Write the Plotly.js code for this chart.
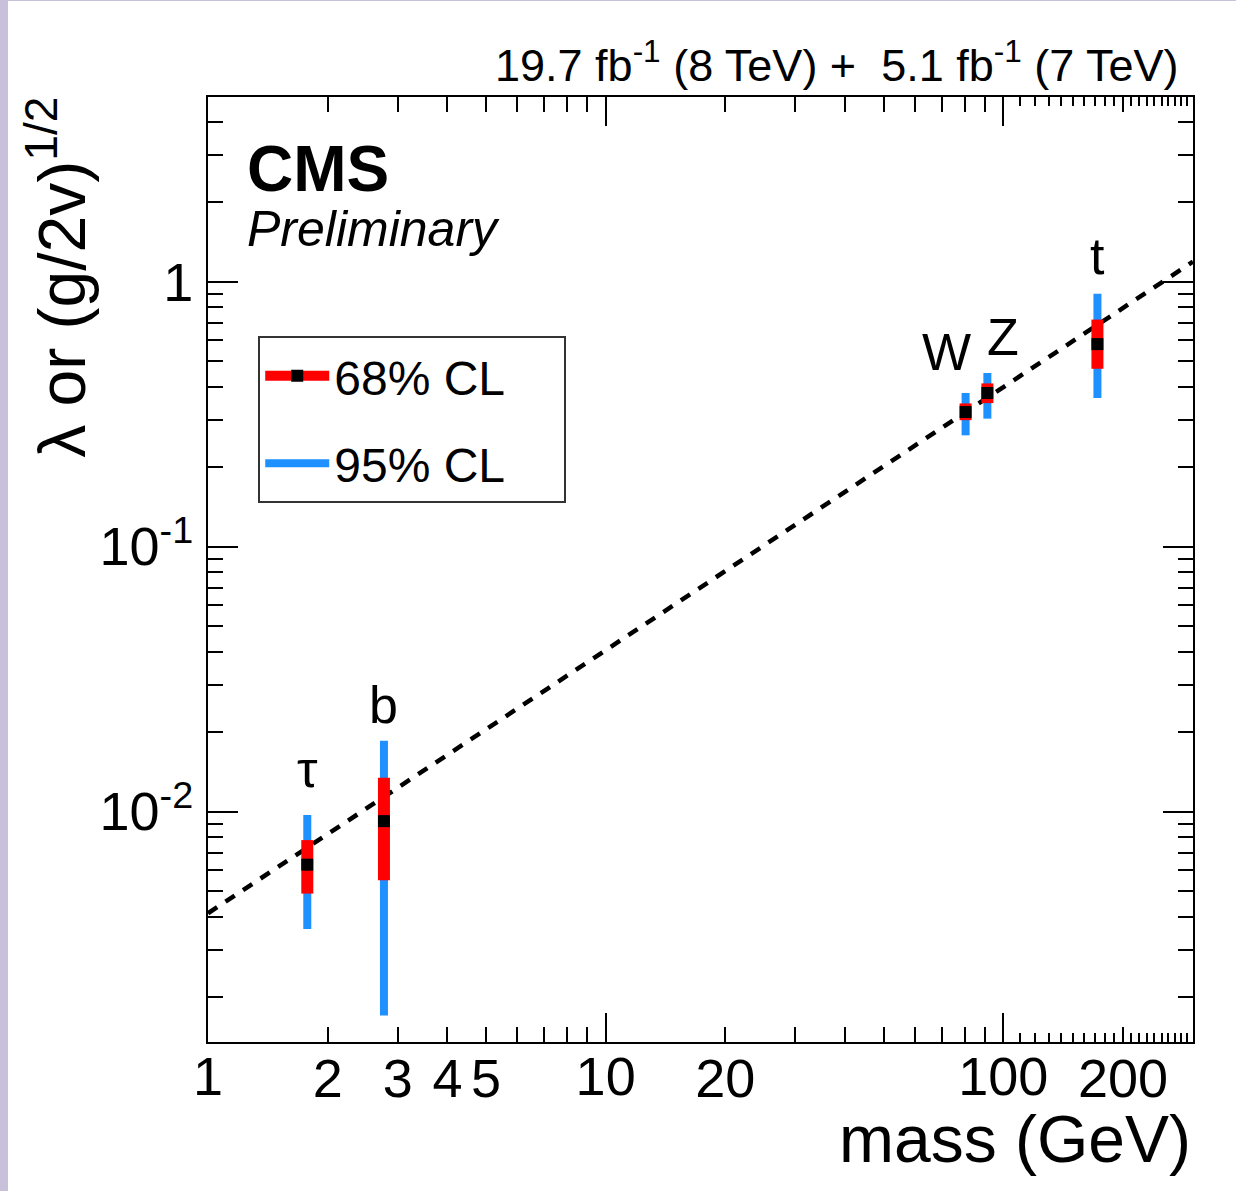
<!DOCTYPE html>
<html>
<head>
<meta charset="utf-8">
<script src="https://cdn.plot.ly/plotly-3.0.1.min.js"></script>
<style>
  html, body { margin: 0; padding: 0; background: #c9c0dc; width: 1236px; height: 1191px; overflow: hidden; }
  #plot { position: absolute; left: 8px; top: 1px; width: 1228px; height: 1190px; background: #ffffff; }
</style>
</head>
<body>
<div id="plot"></div>
<script>
// ---- data ----
const particles = ['τ', 'b', 'W', 'Z', 't'];
const mass      = [1.777, 2.77, 80.4, 91.2, 172.5];      // GeV
const value     = [0.0063, 0.0092, 0.322, 0.380, 0.581]; // best fit
const lo68      = [0.0049, 0.0055, 0.300, 0.348, 0.469];
const hi68      = [0.0078, 0.0134, 0.347, 0.413, 0.719];
const lo95      = [0.0036, 0.0017, 0.263, 0.304, 0.364];
const hi95      = [0.0097, 0.0185, 0.380, 0.452, 0.901];

// SM expectation (dashed line) end points
const smMass  = [1, 300];
const smValue = [0.00413, 1.19];

// axis ticks
const xLabelVals  = [1, 10, 100];
const xLabelText  = ['1', '10', '100'];
const xLabelVals2 = [2, 3, 4, 5, 20, 200];
const xLabelText2 = ['2', '3', '4', '5', '20', '200'];
const xMinorVals  = [6, 7, 8, 9, 30, 40, 50, 60, 70, 80, 90];
const xTinyVals   = [110, 120, 130, 140, 150, 160, 170, 180, 190, 210, 220, 230, 240, 250, 260, 270, 280, 290];
const yTickVals   = [0.01, 0.1, 1];
const yTickText   = ['10<sup>-2</sup>', '10<sup>-1</sup>', '1'];
const yMinorVals  = [0.002, 0.003, 0.004, 0.005, 0.006, 0.007, 0.008, 0.009,
                     0.02, 0.03, 0.04, 0.05, 0.06, 0.07, 0.08, 0.09,
                     0.2, 0.3, 0.4, 0.5, 0.6, 0.7, 0.8, 0.9, 2, 3, 4];

// label offsets (style, pixels)
const labelDx = [0, 0, -19, 16, 0];
const labelDy = [15, 5, 10, 5, 7];

const BLUE = '#1e90ff', RED = '#ff0000';
const FONT = '"Liberation Sans", Arial, Helvetica, sans-serif';

const up   = (hi, c) => hi.map((h, i) => h - c[i]);
const down = (lo, c) => lo.map((l, i) => c[i] - l);

const traces = [
  // carrier trace so the second (tick) x axis is drawn
  { x: [null], y: [null], xaxis: 'x2', yaxis: 'y', mode: 'markers', type: 'scatter', showlegend: false,
    marker: { size: 1, color: 'rgba(0,0,0,0)' }, hoverinfo: 'skip' },
  { x: smMass, y: smValue, mode: 'lines', type: 'scatter', showlegend: false,
    line: { color: '#000', width: 4.5, dash: '11px,10px' }, hoverinfo: 'skip' },
  { x: mass, y: value, mode: 'markers', type: 'scatter', showlegend: false,
    marker: { size: 1, color: 'rgba(0,0,0,0)' },
    error_y: { type: 'data', symmetric: false, array: up(hi95, value), arrayminus: down(lo95, value),
               color: BLUE, thickness: 8, width: 0 } },
  { x: mass, y: value, mode: 'markers', type: 'scatter', showlegend: false,
    marker: { size: 1, color: 'rgba(0,0,0,0)' },
    error_y: { type: 'data', symmetric: false, array: up(hi68, value), arrayminus: down(lo68, value),
               color: RED, thickness: 12, width: 0 } },
  { x: mass, y: value, mode: 'markers', type: 'scatter', showlegend: false,
    marker: { size: 12, color: '#000', symbol: 'square' } },
  // legend entries
  { x: [null], y: [null], mode: 'lines+markers', type: 'scatter', name: '68% CL\u00a0\u00a0\u00a0\u00a0',
    legendgroup: 'a', line: { color: RED, width: 12 }, marker: { color: '#000', size: 12, symbol: 'square' } },
  { x: [null], y: [null], mode: 'lines', type: 'scatter', name: '95% CL',
    legendgroup: 'b', line: { color: BLUE, width: 8 } }
];

const annotations = particles.map((p, i) => ({
  text: p, x: Math.log10(mass[i]), y: Math.log10(hi95[i]), xref: 'x', yref: 'y',
  xanchor: 'center', yanchor: 'bottom', xshift: labelDx[i], yshift: labelDy[i],
  showarrow: false, font: { family: FONT, size: 52, color: '#000' }
}));
annotations.push(
  { text: '<b>CMS</b>', xref: 'paper', yref: 'paper', x: 0.038, y: 0.964, xanchor: 'left', yanchor: 'top',
    showarrow: false, font: { family: FONT, size: 64, color: '#000' } },
  { text: '<i>Preliminary</i>', xref: 'paper', yref: 'paper', x: 0.038, y: 0.892, xanchor: 'left', yanchor: 'top',
    showarrow: false, font: { family: FONT, size: 50, color: '#000' } },
  { text: '19.7 fb<sup>-1</sup> (8 TeV) +\u00a0\u00a05.1 fb<sup>-1</sup> (7 TeV)', xref: 'paper', yref: 'paper',
    x: 0.988, y: 1, xanchor: 'right', yanchor: 'bottom', yshift: 4,
    showarrow: false, font: { family: FONT, size: 45, color: '#000' } },
  { text: 'λ or (g/2v)<sup>1/2</sup>', xref: 'paper', yref: 'paper', x: -0.154, y: 1, xanchor: 'center', yanchor: 'top',
    yshift: 2, textangle: -90, showarrow: false, font: { family: FONT, size: 66, color: '#000' } },
  { text: 'mass (GeV)', xref: 'paper', yref: 'paper', x: 1, y: 0, xanchor: 'right', yanchor: 'top', yshift: -58,
    showarrow: false, font: { family: FONT, size: 66, color: '#000' } }
);

const xr = [0, Math.log10(300)];
const xTickFont = { family: FONT, size: 54, color: '#000' };
const layout = {
  width: 1228, height: 1190,
  margin: { l: 200, r: 43, t: 96, b: 149 },
  paper_bgcolor: '#fff', plot_bgcolor: '#fff',
  font: { family: FONT, color: '#000' },
  showlegend: true,
  legend: { x: 0.051, y: 0.747, xanchor: 'left', yanchor: 'top', bgcolor: '#fff',
            bordercolor: '#333', borderwidth: 2, font: { family: FONT, size: 48, color: '#000' },
            itemwidth: 64, tracegroupgap: 22, traceorder: 'grouped' },
  xaxis: {
    type: 'log', range: xr, showgrid: false, zeroline: false,
    showline: true, linecolor: '#000', linewidth: 2, mirror: 'ticks',
    ticks: 'inside', ticklen: 29, tickwidth: 2, tickcolor: '#000',
    tickmode: 'array', tickvals: xLabelVals, ticktext: xLabelText,
    tickfont: xTickFont, ticklabelstandoff: -14,
    minor: { tickmode: 'array', tickvals: xMinorVals, ticks: 'inside', ticklen: 15, tickwidth: 2, tickcolor: '#000', showgrid: false }
  },
  xaxis2: {
    type: 'log', range: xr, overlaying: 'x', side: 'bottom', anchor: 'y', showgrid: false, zeroline: false,
    showline: false, mirror: 'ticks',
    ticks: 'inside', ticklen: 15, tickwidth: 2, tickcolor: '#000',
    tickmode: 'array', tickvals: xLabelVals2, ticktext: xLabelText2,
    tickfont: xTickFont, ticklabelstandoff: 0,
    minor: { tickmode: 'array', tickvals: xTinyVals, ticks: 'inside', ticklen: 9, tickwidth: 2, tickcolor: '#000', showgrid: false }
  },
  yaxis: {
    type: 'log', range: [-2.87, 0.697], showgrid: false, zeroline: false,
    showline: true, linecolor: '#000', linewidth: 2, mirror: 'ticks',
    ticks: 'inside', ticklen: 30, tickwidth: 2, tickcolor: '#000',
    tickmode: 'array', tickvals: yTickVals, ticktext: yTickText,
    tickfont: { family: FONT, size: 54, color: '#000' }, ticklabelstandoff: 2,
    minor: { tickmode: 'array', tickvals: yMinorVals, ticks: 'inside', ticklen: 15, tickwidth: 2, tickcolor: '#000', showgrid: false }
  },
  annotations: annotations
};

Plotly.newPlot('plot', traces, layout, { staticPlot: true, displayModeBar: false });
</script>
</body>
</html>
